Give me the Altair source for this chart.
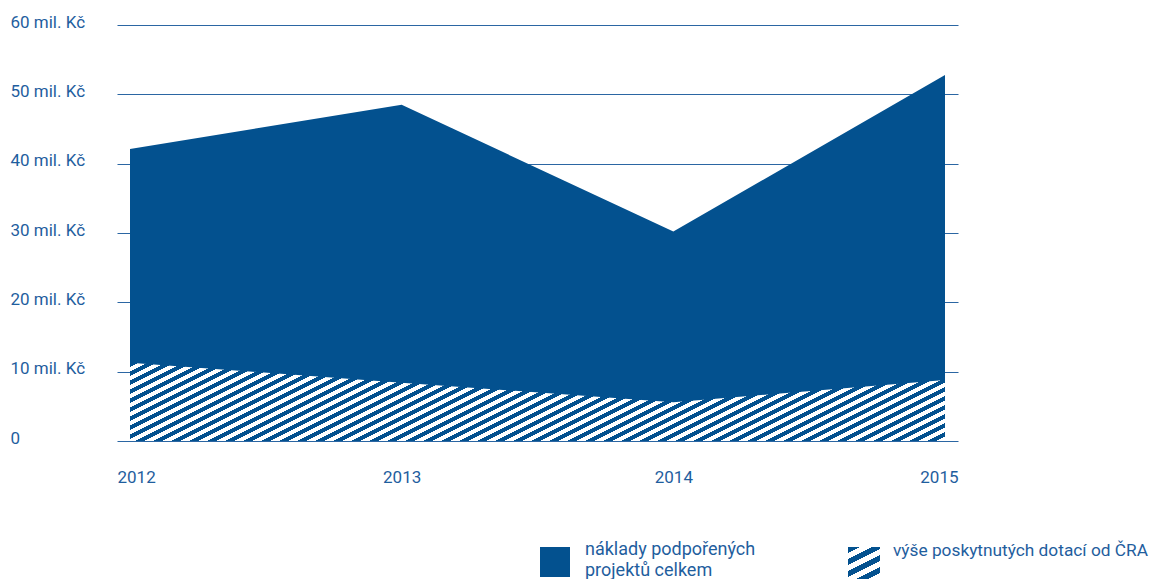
import altair as alt
import pandas as pd

# ---- data ----
years = [2012, 2013, 2014, 2015]
total_costs = [42.1, 48.5, 30.2, 52.8]      # náklady podpořených projektů celkem (mil. Kč)
subsidies = [11.3, 8.4, 5.6, 8.8]           # výše poskytnutých dotací od ČRA (mil. Kč)
y_ticks = [0, 10, 20, 30, 40, 50, 60]
legend_labels = [["náklady podpořených", "projektů celkem"], "výše poskytnutých dotací od ČRA"]

df = pd.DataFrame({"year": years, "total": total_costs, "sub": subsidies})

BLUE = "#03518f"
TEXT = "#1f5e9e"
GRID = "#2b66a3"
FONT = "Roboto"

W, H = 841, 416
PAD_X = 13


def stripes(box_w, box_h, slope, period, color, bg="#ffffff"):
    # diagonal hatch built as a hard-stop linear gradient in bounding-box units
    a, b = slope * box_w / box_h, 1.0
    k = (a + b) / (a * a + b * b)
    dist = (slope * box_w + box_h) / (1 + slope * slope) ** 0.5
    n = max(1, round(dist / period))
    stops = []
    for i in range(n):
        o0, o1, o2 = i / n, (i + 0.5) / n, (i + 1) / n
        stops += [
            {"offset": o0, "color": color},
            {"offset": o1, "color": color},
            {"offset": o1, "color": bg},
            {"offset": o2, "color": bg},
        ]
    return {"gradient": "linear", "x1": 0, "y1": 0, "x2": k * a, "y2": k * b, "stops": stops}


span_w = W - 2 * PAD_X
hatch_h = H * max(subsidies) / 60.0
hatch = stripes(span_w, hatch_h, 0.5, 8.0, BLUE)
swatch_hatch = stripes(32, 32, 0.5, 11.5, BLUE)

x_enc = alt.X(
    "year:Q",
    scale=alt.Scale(domain=[2012, 2015], nice=False, zero=False, padding=PAD_X),
    axis=alt.Axis(
        values=years, format="d", title=None, grid=False, domain=False, ticks=False,
        labelFlush=15, labelFlushOffset=13, labelPadding=28, labelBaseline="top",
        labelFont=FONT, labelFontSize=17, labelColor=TEXT,
    ),
)
y_axis = alt.Axis(
    values=y_ticks, title=None, grid=True, gridColor=GRID, gridWidth=1.2,
    domain=False, ticks=False, labelAlign="left", labelPadding=107,
    labelBaseline="middle", labelOffset=-3,
    labelExpr="datum.value == 0 ? '0' : datum.value + ' mil. Kč'",
    labelFont=FONT, labelFontSize=17, labelColor=TEXT,
)

base = alt.Chart(df)
total_area = base.mark_area(color=BLUE, opacity=1).encode(
    x=x_enc,
    y=alt.Y("total:Q", scale=alt.Scale(domain=[0, 60], nice=False), axis=y_axis),
)
sub_area = base.mark_area(fill=hatch, opacity=1).encode(
    x="year:Q",
    y="sub:Q",
)

one = alt.Chart(pd.DataFrame({"k": [0]}))
leg_sq = one.mark_rect(color=BLUE).encode(
    x=alt.value(423), x2=alt.value(453), y=alt.value(522), y2=alt.value(552)
)
leg_t1 = one.mark_text(
    align="left", baseline="top", font=FONT, fontSize=18, color=TEXT, lineHeight=21
).encode(x=alt.value(468), y=alt.value(516), text=alt.value(legend_labels[0]))
leg_hatch = one.mark_rect(fill=swatch_hatch).encode(
    x=alt.value(731), x2=alt.value(763), y=alt.value(522), y2=alt.value(554)
)
leg_t2 = one.mark_text(
    align="left", baseline="top", font=FONT, fontSize=17.3, color=TEXT
).encode(x=alt.value(776), y=alt.value(517), text=alt.value(legend_labels[1]))

chart = alt.layer(total_area, sub_area, leg_sq, leg_t1, leg_hatch, leg_t2).properties(
    width=W, height=H,
    autosize="none",
    padding={"left": 109, "top": 17, "right": 194, "bottom": 138},
).configure_view(stroke=None)

chart.save("out.html", embed_options={"renderer": "svg", "actions": False})
